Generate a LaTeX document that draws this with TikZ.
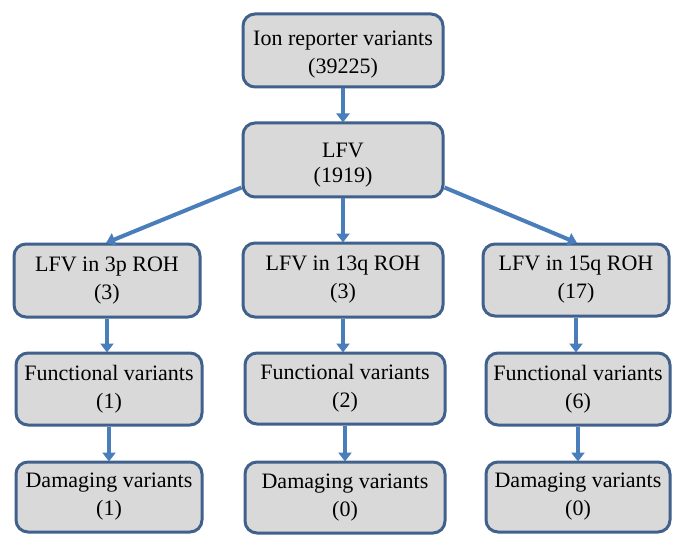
\documentclass[tikz,border=0pt]{standalone}
\usepackage{fontspec}
\setmainfont{Liberation Serif}
\usetikzlibrary{arrows.meta}
\definecolor{boxfill}{HTML}{D9D9D9}
\definecolor{boxline}{HTML}{3F618C}
\definecolor{arrcol}{HTML}{4A7EBB}
\tikzset{
  flowbox/.style={draw=boxline, line width=3pt, fill=boxfill, rounded corners=12pt,
    align=center, inner sep=0pt, font=\fontsize{22}{28}\selectfont, text=black},
  arr/.style={draw=arrcol, line width=4pt, -{Triangle[width=13pt,length=9pt]}, shorten >=-1pt}
}
\begin{document}
\begin{tikzpicture}[x=1pt,y=-1pt]
\useasboundingbox (0,0) rectangle (685,548);
\node[flowbox, minimum width=200pt, minimum height=73pt, text height=50pt] (top) at (343,50.5) {Ion reporter variants\\(39225)};
\node[flowbox, minimum width=200pt, minimum height=74pt, text height=49pt] (lfv) at (343,160) {LFV\\[-3pt](1919)};
\node[flowbox, minimum width=186pt, minimum height=73pt] (l3) at (107,280.5) {LFV in 3p ROH\\(3)};
\node[flowbox, minimum width=200pt, minimum height=74pt] (m3) at (343,280) {LFV in 13q ROH\\(3)};
\node[flowbox, minimum width=186pt, minimum height=72pt] (r3) at (576,280) {LFV in 15q ROH\\(17)};
\node[flowbox, minimum width=186pt, minimum height=72pt] (l4) at (109,389) {Functional variants\\(1)};
\node[flowbox, minimum width=200pt, minimum height=71pt] (m4) at (345,388.5) {Functional variants\\(2)};
\node[flowbox, minimum width=184pt, minimum height=72pt] (r4) at (578,389) {Functional variants\\(6)};
\node[flowbox, minimum width=186pt, minimum height=70pt] (l5) at (109,497) {Damaging variants\\(1)};
\node[flowbox, minimum width=200pt, minimum height=71pt] (m5) at (345,497.5) {Damaging variants\\(0)};
\node[flowbox, minimum width=184pt, minimum height=70pt] (r5) at (578,497) {Damaging variants\\(0)};
\draw[arr] (top.south) -- (lfv.north);
\draw[arr] (lfv.south) -- (m3.north);
\draw[arr] ([yshift=11pt]lfv.south west) -- (l3.north);
\draw[arr] ([yshift=11pt]lfv.south east) -- (r3.north);
\draw[arr] (l3.south) -- (l3.south |- l4.north);
\draw[arr] (m3.south) -- (m3.south |- m4.north);
\draw[arr] (r3.south) -- (r3.south |- r4.north);
\draw[arr] (l4.south) -- (l5.north);
\draw[arr] (m4.south) -- (m5.north);
\draw[arr] (r4.south) -- (r5.north);
\end{tikzpicture}
\end{document}
